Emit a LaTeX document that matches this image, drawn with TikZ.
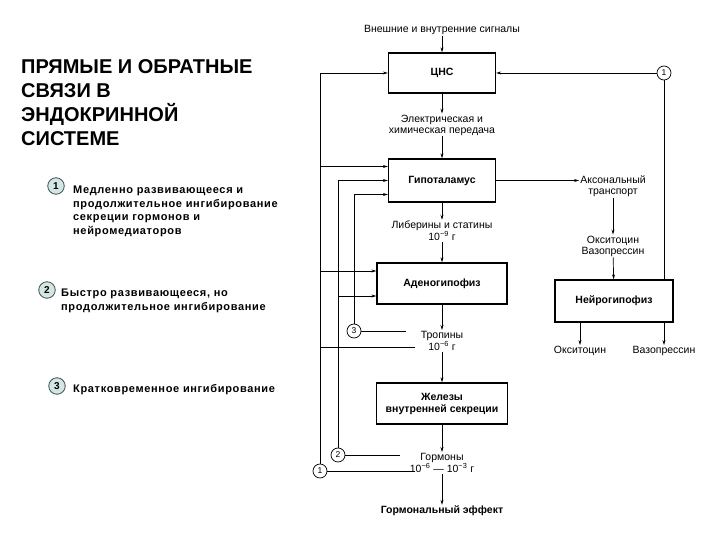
\documentclass[tikz,border=0pt]{standalone}
\usepackage{fontspec}
\setmainfont{Liberation Sans}
\newfontfamily\legfont[LetterSpace=6]{Liberation Sans}
\usepackage{tikz}
\usetikzlibrary{positioning, arrows.meta, calc}
\definecolor{legfill}{HTML}{D3E6E4}
\definecolor{legline}{HTML}{3C4C4C}

\begin{document}
\begin{tikzpicture}[x=1pt, y=-1pt,
  block/.style={draw, line width=1.3pt, align=center, inner sep=0pt,
    font=\fontsize{10.5}{12}\selectfont\bfseries},
  note/.style={align=center, inner sep=1pt,
    font=\fontsize{10.5}{11}\selectfont},
  flow/.style={-{Stealth[length=5pt, width=3pt]}, line width=0.7pt},
  link/.style={line width=0.7pt},
  fbnum/.style={circle, draw, fill=white, line width=0.7pt, minimum size=14pt,
    inner sep=0pt, font=\fontsize{8.5}{8.5}\selectfont},
  legnum/.style={circle, draw=legline, fill=legfill, line width=0.8pt,
    minimum size=16.5pt, inner sep=0pt, font=\fontsize{10}{10}\selectfont\bfseries},
  legtext/.style={anchor=north west, align=left, inner sep=0pt,
    font=\legfont\fontsize{11}{13.5}\selectfont\bfseries},
]
  \useasboundingbox (0,0) rectangle (720,540);
  \fill[white] (0,0) rectangle (720,540);

  % Title and legend
  \node[anchor=north west, align=left, inner sep=0pt,
    font=\fontsize{20}{24}\selectfont\bfseries] (title) at (21,59)
    {ПРЯМЫЕ И ОБРАТНЫЕ\\СВЯЗИ В\\ЭНДОКРИННОЙ\\СИСТЕМЕ};

  \node[legnum] (leg1) at (56,186) {1};
  \node[legtext] (leg1txt) at (73,186)
    {Медленно развивающееся и\\продолжительное ингибирование\\секреции гормонов и\\нейромедиаторов};
  \node[legnum] (leg2) at (47,290) {2};
  \node[legtext] (leg2txt) at (61,289)
    {Быстро развивающееся, но\\продолжительное ингибирование};
  \node[legnum] (leg3) at (57,386) {3};
  \node[legtext] (leg3txt) at (73,384) {Кратковременное ингибирование};

  % Main chain
  \node[note] (signals) at (442,30) {Внешние и внутренние сигналы};
  \node[block, minimum width=107, minimum height=40] (cns) at (442,73) {ЦНС};
  \node[note] (relay) at (442,125) {Электрическая и\\химическая передача};
  \node[block, minimum width=107, minimum height=43] (hyp) at (442,180.5) {Гипоталамус};
  \node[note] (lib) at (442,231) {Либерины и статины\\10\textsuperscript{−9} г};
  \node[block, minimum width=130, minimum height=41] (adeno) at (442,283.5) {Аденогипофиз};
  \node[note] (trop) at (442,341) {Тропины\\10\textsuperscript{−6} г};
  \node[block, minimum width=131, minimum height=41] (glands) at (442,403.5) {Железы\\внутренней секреции};
  \node[note] (horm) at (442,463) {Гормоны\\10\textsuperscript{−6} — 10\textsuperscript{−3} г};
  \node[note, font=\fontsize{10.5}{12}\selectfont\bfseries] (effect) at (442,511) {Гормональный эффект};

  % Neurohypophysis branch
  \node[note] (axon) at (613,186.5) {Аксональный\\транспорт};
  \node[note] (oxvaso) at (613,246) {Окситоцин\\Вазопрессин};
  \node[block, minimum width=118, minimum height=42] (neuro) at (614,301) {Нейрогипофиз};
  \node[note] (oxy) at (580,351) {Окситоцин};
  \node[note] (vaso) at (664,351) {Вазопрессин};

  % Feedback markers
  \node[fbnum] (fb1top) at (664,73) {1};
  \node[fbnum] (fb1) at (320,471) {1};
  \node[fbnum] (fb2) at (338,455) {2};
  \node[fbnum] (fb3) at (354,331) {3};
  \coordinate (tropend) at (415,347);
  \coordinate (fb1end) at (415,471);
  \coordinate (fb2end) at (400,455);
  \coordinate (fb3end) at (406,331);

  % Direct links
  \draw[flow] (signals) -- (cns);
  \draw[flow] (cns) -- (relay);
  \draw[flow] (relay) -- (hyp);
  \draw[flow] (hyp) -- (lib);
  \draw[flow] (lib) -- (adeno);
  \draw[flow] (adeno) -- (trop);
  \draw[flow] (trop) -- (glands);
  \draw[flow] (glands) -- (horm);
  \draw[flow] (horm) -- (effect);

  \draw[flow] (hyp.east) -- (hyp.east -| axon.west);
  \draw[flow] (axon) -- (oxvaso);
  \draw[flow] (oxvaso) -- (neuro);
  \draw[flow] (neuro.south -| oxy) -- (oxy);
  \draw[flow] (neuro.south -| vaso) -- (vaso);

  % Feedback loops
  \draw[link] (neuro.north -| fb1top) -- (fb1top);
  \draw[flow] (fb1top) -- (cns.east);

  \draw[flow] (fb1) |- (cns.west);
  \draw[flow] ([yshift=14]hyp.west -| fb1) -- ([yshift=14]hyp.west);
  \draw[flow] ([yshift=12.5]adeno.west -| fb1) -- ([yshift=12.5]adeno.west);
  \draw[link] (fb1 |- tropend) -- (tropend);
  \draw[link] (fb1) -- (fb1end);

  \draw[flow] (fb2) |- (hyp.west);
  \draw[flow] ([yshift=-12.5]adeno.west -| fb2) -- ([yshift=-12.5]adeno.west);
  \draw[link] (fb2) -- (fb2end);

  \draw[flow] (fb3) |- ([yshift=-14]hyp.west);
  \draw[link] (fb3) -- (fb3end);
\end{tikzpicture}
\end{document}
